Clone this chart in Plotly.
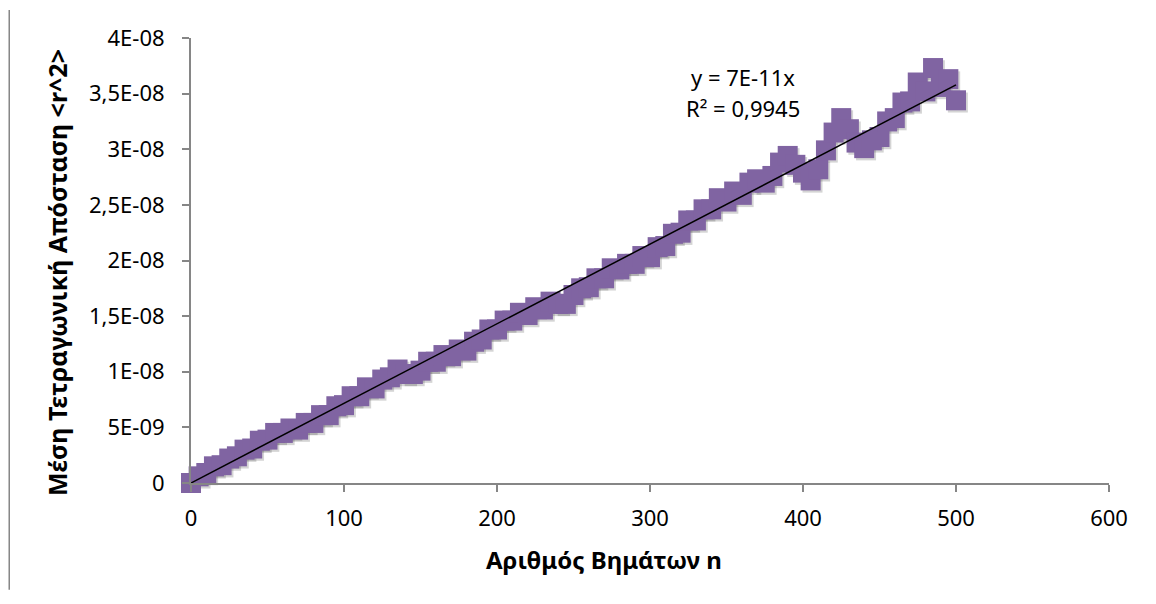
import numpy as np
import plotly.graph_objects as go

# Data (mean square distance vs number of steps)
n_steps = list(range(0, 505, 5))
msd = [
    0.0e-9, 0.6e-9, 0.9e-9, 1.5e-9, 1.6e-9, 2.2e-9, 2.4e-9, 3.0e-9, 3.1e-9, 3.8e-9,
    3.9e-9, 4.5e-9, 4.5e-9, 4.9e-9, 4.8e-9, 5.4e-9, 5.4e-9, 6.1e-9, 6.1e-9, 6.9e-9,
    7.0e-9, 7.8e-9, 7.8e-9, 8.6e-9, 8.5e-9, 9.3e-9, 9.5e-9, 10.2e-9, 9.8e-9, 9.8e-9,
    10.1e-9, 10.9e-9, 10.9e-9, 11.5e-9, 11.4e-9, 12.0e-9, 11.9e-9, 12.7e-9, 12.9e-9, 13.8e-9,
    13.8e-9, 14.6e-9, 14.6e-9, 15.3e-9, 15.1e-9, 15.8e-9, 15.6e-9, 16.3e-9, 16.1e-9, 16.1e-9,
    16.9e-9, 17.5e-9, 17.6e-9, 18.4e-9, 18.4e-9, 19.3e-9, 19.2e-9, 19.7e-9, 19.7e-9, 20.4e-9,
    20.3e-9, 21.2e-9, 21.3e-9, 22.4e-9, 22.5e-9, 23.6e-9, 23.6e-9, 24.6e-9, 24.6e-9, 25.6e-9,
    25.3e-9, 26.2e-9, 25.9e-9, 27.0e-9, 27.3e-9, 27.0e-9, 27.6e-9, 28.8e-9, 29.4e-9, 28.6e-9,
    27.9e-9, 27.2e-9, 28.2e-9, 29.9e-9, 31.5e-9, 32.8e-9, 31.8e-9, 30.6e-9, 30.1e-9, 30.8e-9,
    31.1e-9, 32.5e-9, 32.8e-9, 34.2e-9, 34.3e-9, 36.0e-9, 35.2e-9, 37.3e-9, 35.6e-9, 36.3e-9,
    34.4e-9,
]

y_tickvals = [0, 5e-9, 1e-8, 1.5e-8, 2e-8, 2.5e-8, 3e-8, 3.5e-8, 4e-8]
y_ticktext = ["0", "5E-09", "1E-08", "1,5E-08", "2E-08", "2,5E-08", "3E-08", "3,5E-08", "4E-08"]
x_tickvals = [0, 100, 200, 300, 400, 500, 600]
eq_text = "y = 7E-11x"
r2_text = "R² = 0,9945"
x_title = "Αριθμός Βημάτων n"
y_title = "Μέση Τετραγωνική Απόσταση <r^2>"

x = np.array(n_steps, dtype=float)
y = np.array(msd)

# linear trendline through the origin
slope = np.sum(x * y) / np.sum(x * x)
x_fit = np.array([x.min(), x.max()])
y_fit = slope * x_fit

font = "Noto Sans, Open Sans, sans-serif"
axis_grey = "#868686"

fig = go.Figure()

# soft shadow below the markers
fig.add_trace(
    go.Scatter(
        x = x + 1.2,
        y = y - 2.0e-10,
        mode = 'markers',
        marker = dict(symbol = 'square', size = 20, color = 'rgba(60,60,60,0.22)', line = dict(width = 0)),
        cliponaxis = False,
        hoverinfo = 'skip'))

# data points
fig.add_trace(
    go.Scatter(
        x = x,
        y = y,
        mode = 'markers',
        marker = dict(symbol = 'square', size = 20, color = '#8064A2', line = dict(width = 0)),
        cliponaxis = False,
        name = '<r^2>'))

# trendline (on the overlay axes, which share the same ranges)
fig.add_trace(
    go.Scatter(
        x = x_fit,
        y = y_fit,
        xaxis = 'x2',
        yaxis = 'y2',
        mode = 'lines',
        line = dict(color = 'black', width = 1.5),
        cliponaxis = False,
        name = 'trend'))

# trendline equation
fig.add_annotation(
    x = 361, y = 3.65e-8, xref = 'x', yref = 'y',
    text = eq_text, showarrow = False,
    font = dict(family = font, size = 22, color = 'black'))
fig.add_annotation(
    x = 361, y = 3.37e-8, xref = 'x', yref = 'y',
    text = r2_text, showarrow = False,
    font = dict(family = font, size = 22, color = 'black'))

# axis titles
fig.add_annotation(
    x = 0.45, y = -0.171, xref = 'paper', yref = 'paper',
    xanchor = 'center', yanchor = 'middle',
    text = f"<b>{x_title}</b>", showarrow = False,
    font = dict(family = font, size = 24, color = 'black'))
fig.add_annotation(
    x = -0.146, y = 0.474, xref = 'paper', yref = 'paper',
    xanchor = 'center', yanchor = 'middle',
    text = f"<b>{y_title.replace('<', '&lt;').replace('>', '&gt;')}</b>",
    textangle = -90, showarrow = False,
    font = dict(family = font, size = 25, color = 'black'))

# chart border on the left
fig.add_shape(
    type = 'line', xref = 'paper', yref = 'paper',
    x0 = -0.198, x1 = -0.198, y0 = 1.063, y1 = -0.24,
    line = dict(color = axis_grey, width = 1.5))

# main axes carry the line and short ticks; overlay axes carry the labels
# with a transparent, longer tick so the labels sit further out
fig.update_layout(
    xaxis = dict(
        range = [0, 600],
        tickvals = x_tickvals,
        showticklabels = False,
        showgrid = False, zeroline = False,
        showline = True, linecolor = axis_grey, linewidth = 1.5,
        ticks = 'outside', ticklen = 7, tickcolor = axis_grey, tickwidth = 1.5),
    xaxis2 = dict(
        range = [0, 600],
        overlaying = 'x', anchor = 'y2', side = 'bottom',
        tickvals = x_tickvals,
        showgrid = False, zeroline = False, showline = False,
        ticks = 'outside', ticklen = 16, tickcolor = 'rgba(0,0,0,0)',
        tickfont = dict(family = font, size = 22, color = 'black')),
    yaxis = dict(
        range = [0, 4e-8],
        tickvals = y_tickvals,
        showticklabels = False,
        showgrid = False, zeroline = False,
        showline = True, linecolor = axis_grey, linewidth = 1.5,
        ticks = 'outside', ticklen = 7, tickcolor = axis_grey, tickwidth = 1.5),
    yaxis2 = dict(
        range = [0, 4e-8],
        overlaying = 'y', anchor = 'x2', side = 'left',
        tickvals = y_tickvals, ticktext = y_ticktext,
        showgrid = False, zeroline = False, showline = False,
        ticks = 'outside', ticklen = 21, tickcolor = 'rgba(0,0,0,0)',
        tickfont = dict(family = font, size = 22, color = 'black')),
    showlegend = False,
    plot_bgcolor = 'white',
    paper_bgcolor = 'white',
    margin = dict(l = 183, r = 39, t = 30, b = 113, autoexpand = False),
    autosize = False,
    width = 1140,
    height = 588)

fig.write_html("out.html")
